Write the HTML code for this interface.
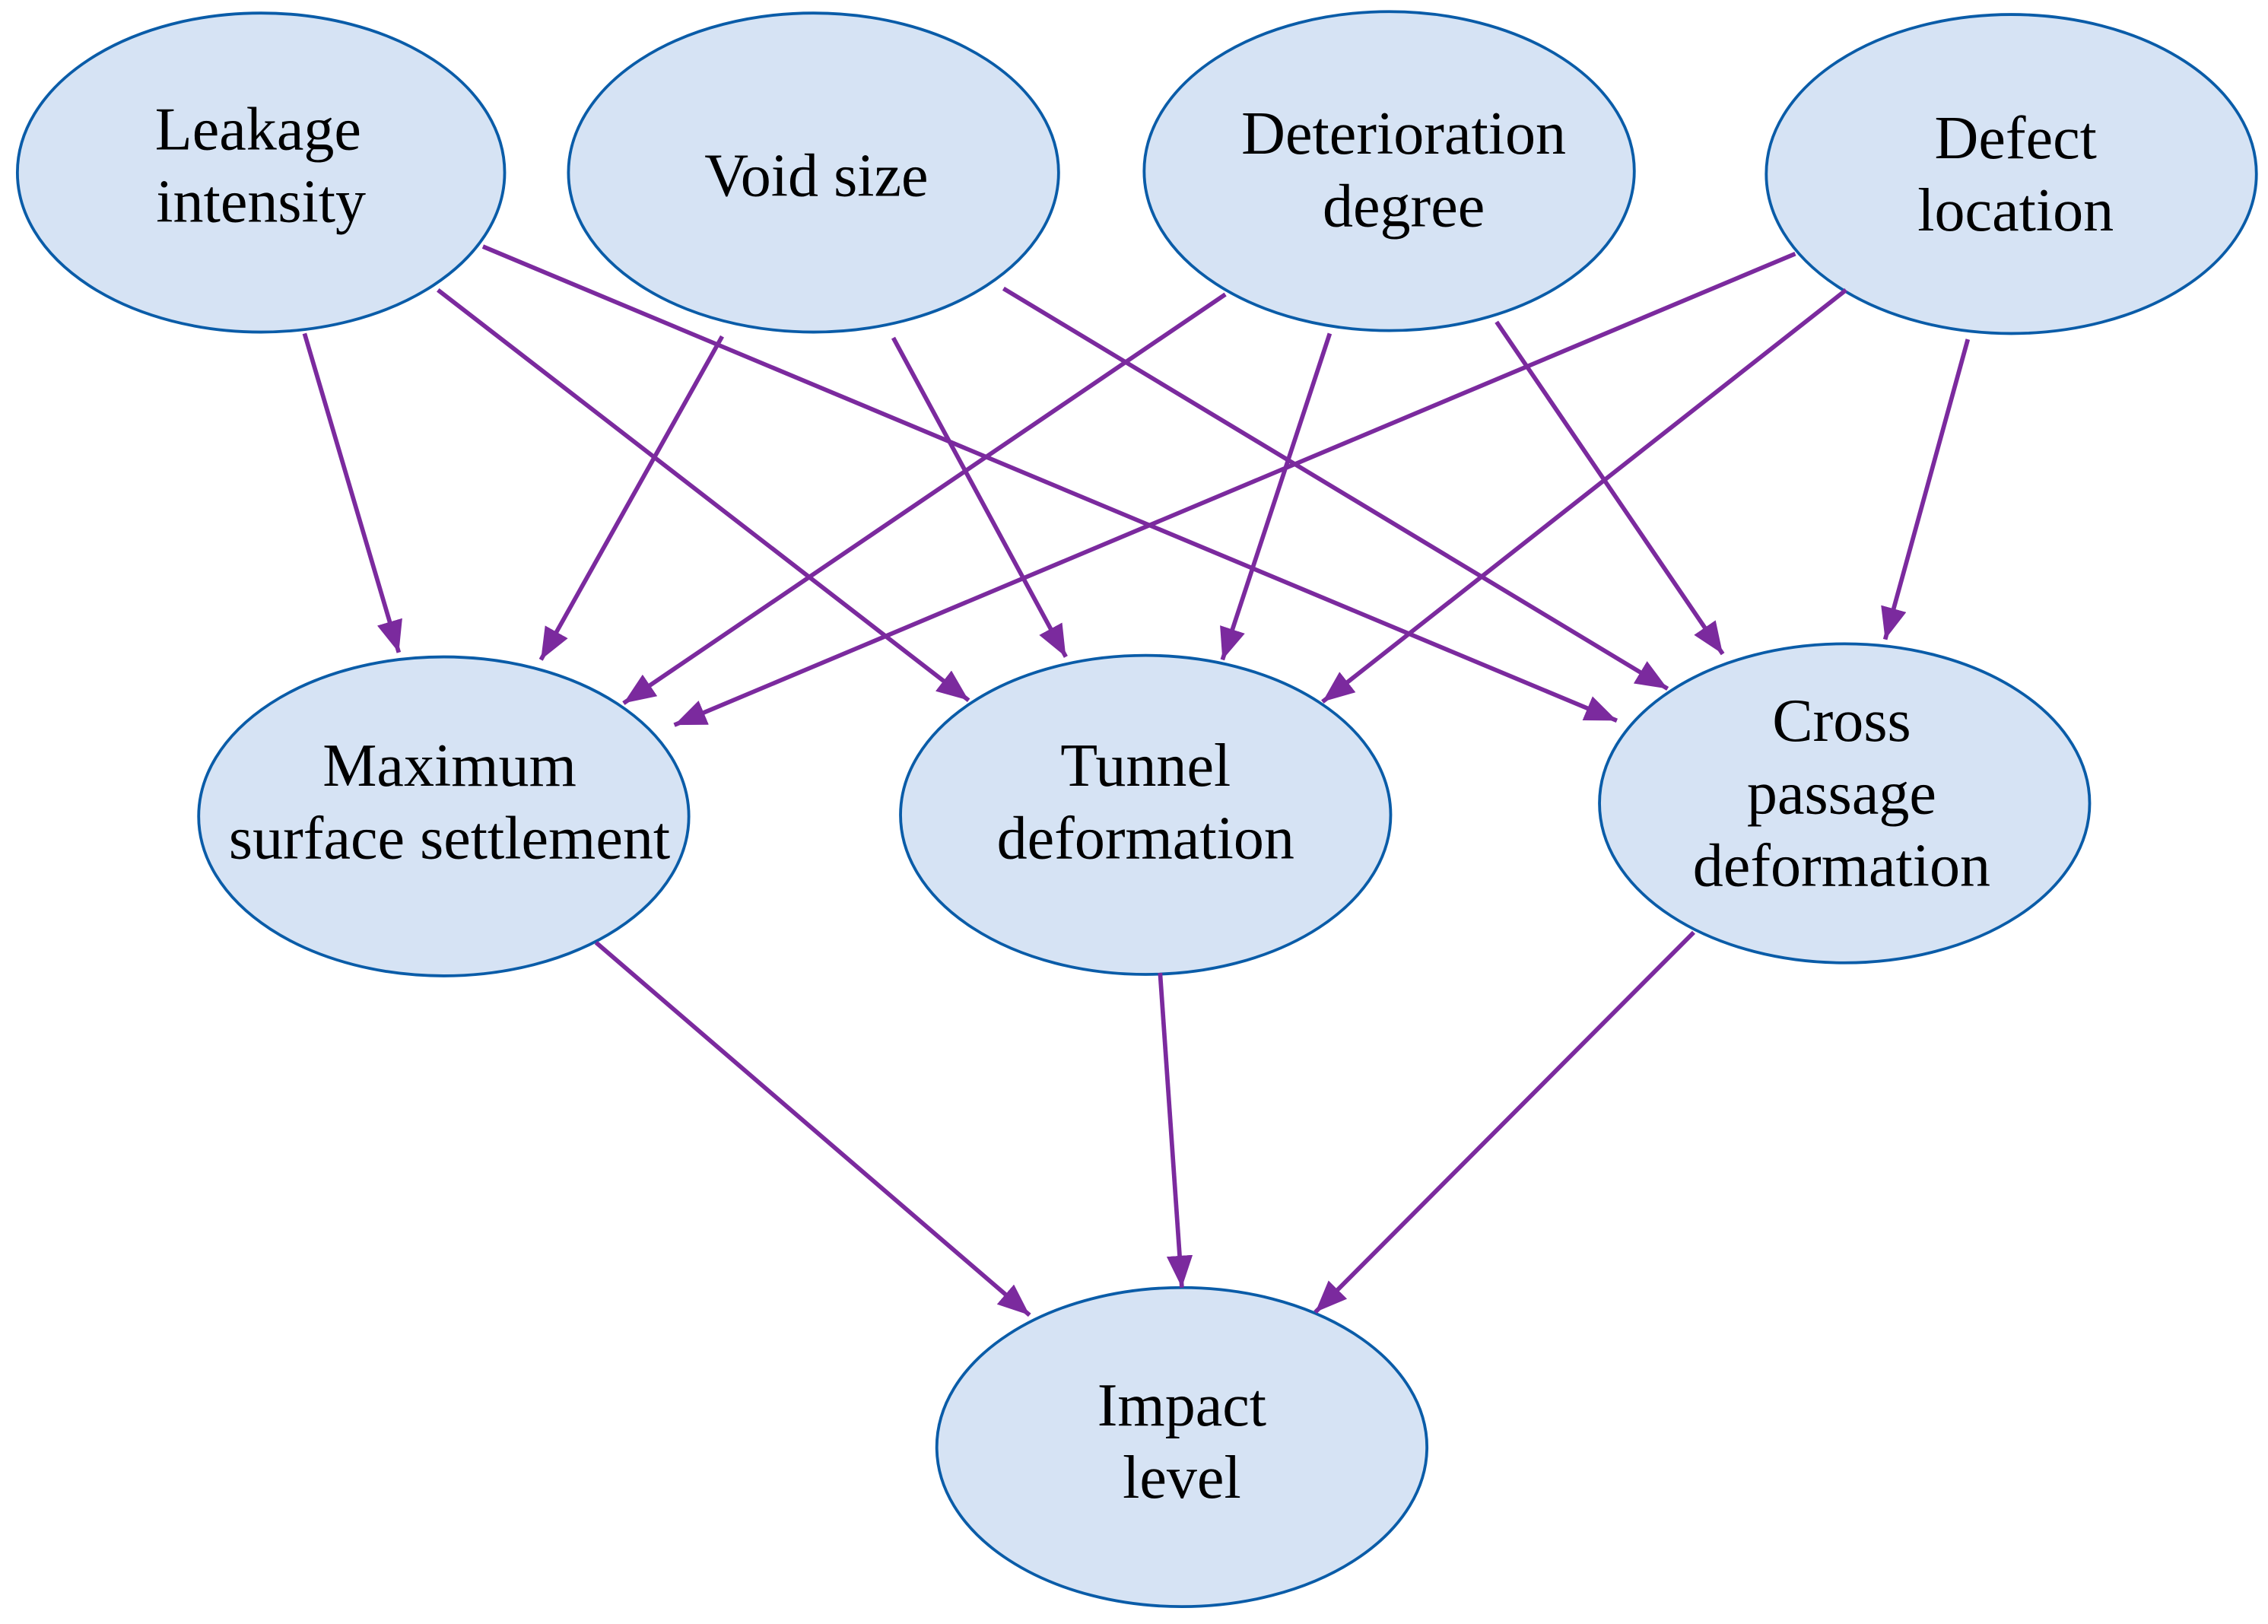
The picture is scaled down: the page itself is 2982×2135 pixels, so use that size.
<!DOCTYPE html>
<html><head><meta charset="utf-8"><style>html,body{margin:0;padding:0;background:#fff}svg{display:block}</style></head>
<body>
<svg width="2982" height="2135" viewBox="0 0 1564 1120" preserveAspectRatio="none" xmlns="http://www.w3.org/2000/svg">
<defs>
<marker id="a" markerUnits="userSpaceOnUse" markerWidth="24" markerHeight="18" refX="22" refY="9" orient="auto">
<path d="M0,0 L22,9 L0,18 z" fill="#7b2a9e"/>
</marker>
</defs>
<g fill="#d6e3f4" stroke="#0a5ca8" stroke-width="2">
<ellipse cx="180" cy="119" rx="168" ry="110"/>
<ellipse cx="561" cy="119" rx="169" ry="110"/>
<ellipse cx="958" cy="118" rx="169" ry="110"/>
<ellipse cx="1387" cy="120" rx="169" ry="110"/>
<ellipse cx="306" cy="563" rx="169" ry="110"/>
<ellipse cx="790" cy="562" rx="169" ry="110"/>
<ellipse cx="1272" cy="554" rx="169" ry="110"/>
<ellipse cx="815" cy="998" rx="169" ry="110"/>
</g>
<g stroke="#7b2a9e" stroke-width="3" marker-end="url(#a)">
<line x1="210" y1="230" x2="275" y2="450"/>
<line x1="302" y1="200" x2="668" y2="483"/>
<line x1="333" y1="170" x2="1115" y2="497"/>
<line x1="498" y1="232" x2="373" y2="455"/>
<line x1="616" y1="233" x2="735" y2="453"/>
<line x1="692" y1="199" x2="1150" y2="475"/>
<line x1="845" y1="203" x2="430" y2="485"/>
<line x1="917" y1="230" x2="843" y2="455"/>
<line x1="1032" y1="222" x2="1188" y2="451"/>
<line x1="1238" y1="175" x2="465" y2="500"/>
<line x1="1273" y1="200" x2="912" y2="484"/>
<line x1="1357" y1="234" x2="1300" y2="441"/>
<line x1="411" y1="650" x2="710" y2="907"/>
<line x1="800" y1="671" x2="815" y2="888"/>
<line x1="1168" y1="643" x2="907" y2="905"/>
</g>
<g font-family="Liberation Serif, serif" font-size="42" text-anchor="middle" fill="#000">
<text x="178" y="103">Leakage</text><text x="180" y="153">intensity</text>
<text x="563" y="135">Void size</text>
<text x="968" y="106">Deterioration</text><text x="968" y="156">degree</text>
<text x="1390" y="109">Defect</text><text x="1390" y="159">location</text>
<text x="310" y="542">Maximum</text><text x="310" y="592">surface settlement</text>
<text x="790" y="542">Tunnel</text><text x="790" y="592">deformation</text>
<text x="1270" y="511">Cross</text><text x="1270" y="561">passage</text><text x="1270" y="611">deformation</text>
<text x="815" y="983">Impact</text><text x="815" y="1033">level</text>
</g>
</svg>
</body></html>
